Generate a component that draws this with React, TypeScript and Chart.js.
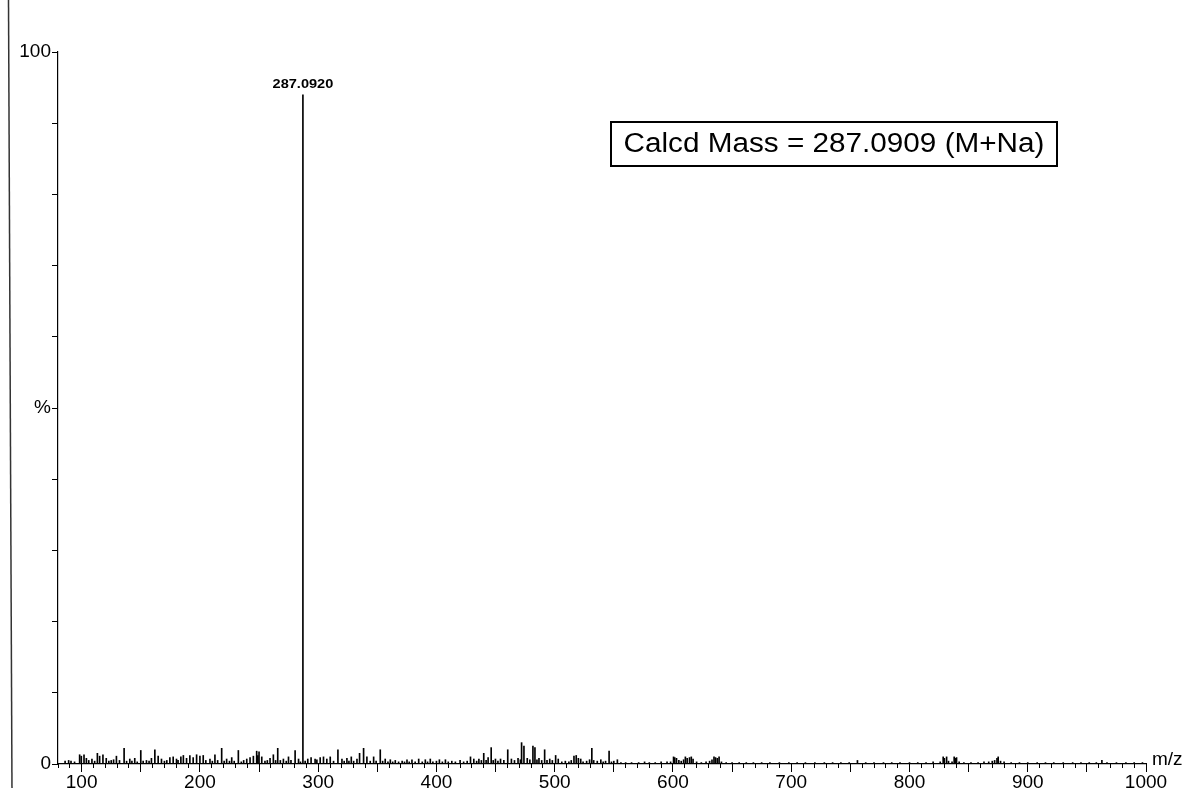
import React, { useEffect, useRef } from "react";
import { Chart, registerables } from "chart.js";

Chart.register(...registerables);

// ---- Data ----
const xMin = 80;
const xMax = 1000;
const yMin = 0;
const yMax = 100;

const mainPeakMz = [287.092];
const mainPeakPct = [94];
const mainPeakLabels = ["287.0920"];

const calcdText = "Calcd Mass = 287.0909 (M+Na)";
const xAxisTitle = "m/z";

const minorMz = [
  86, 89, 91, 94, 98.3, 99.7, 102, 104, 106, 108.7, 111, 113.3, 115.2, 118, 120.8, 123, 125, 127, 129.4, 132,
  135.9, 138, 140.7, 142.5, 144.9, 147, 150, 152, 154.8, 157, 159, 161.9, 164.7, 167.5, 170, 172, 174.6, 177.4,
  180.2, 181.5, 183.9, 186, 188.7, 191.5, 194.3, 197.2, 200, 202.8, 205, 208.5, 210.5, 212.7, 215, 218.4, 220.5,
  222.6, 225, 226.9, 229, 232.5, 235, 237, 239.6, 242.4, 245.2, 248, 249, 250, 252.3, 255, 257, 259.3, 262.1, 264,
  265.8, 268, 270.6, 273, 274.9, 277, 280.5, 283.4, 285, 289, 291.2, 294, 297.4, 298.9, 301.7, 304.5, 307.3, 310.2,
  313, 316.7, 320.1, 322, 324.3, 326, 328, 330, 332.8, 335, 338.4, 341.2, 344, 346.9, 349, 352.5, 354.5, 356.7, 359,
  361, 363, 365.2, 368, 371, 373, 375.1, 377, 379.3, 382, 385, 388, 390.6, 392.5, 394.8, 397, 400, 402.5, 405, 407.6,
  410, 413, 416, 420, 423, 426, 428.8, 431.6, 434, 435.9, 438, 440, 442, 443.7, 446.3, 448, 449.9, 452, 454.2, 457,
  460.3, 463.4, 466, 469, 471, 472, 474, 476.8, 479, 481.6, 483.3, 485, 486.7, 489, 491.5, 493.5, 495.8, 498, 500.8,
  503, 506, 509, 512, 514, 516.3, 518.2, 520, 522, 524, 527, 529.5, 531.4, 533, 536, 539, 541, 543, 546, 548, 550,
  553, 556, 560, 565, 571, 576, 580, 585, 590, 595, 598, 600.5, 601.5, 603, 605, 607, 609, 610.5, 612, 614, 615.5,
  617, 620, 624, 628, 631, 633, 634.7, 636, 637.5, 639, 641, 645, 650, 656, 662, 668, 675, 682, 690, 698, 705, 712,
  720, 728, 735, 742, 749, 756, 763, 770, 778, 785, 792, 800, 807, 814, 820, 826, 828.5, 829.5, 831.4, 833, 836,
  837.8, 839, 839.8, 842, 846, 852, 858, 863, 867, 870, 872, 874, 875, 877, 880, 886, 893, 900, 908, 915, 922, 930,
  938, 945, 952, 958, 962.7, 967, 975, 983, 990, 997,
];
const minorPct = [
  0.4, 0.5, 0.4, 0.3, 1.3, 1.1, 1.3, 0.8, 0.5, 0.7, 0.4, 1.5, 1.1, 1.3, 0.8, 0.4, 0.5, 0.6, 1.1, 0.5,
  2.2, 0.4, 0.7, 0.4, 0.8, 0.3, 1.9, 0.4, 0.5, 0.4, 0.8, 2.0, 1.1, 0.7, 0.4, 0.5, 0.9, 1.0,
  0.7, 0.5, 1.0, 1.2, 0.8, 1.2, 0.9, 1.3, 1.1, 1.2, 0.5, 0.7, 0.4, 1.3, 0.5, 2.2, 0.4,
  0.7, 0.4, 0.9, 0.4, 1.9, 0.3, 0.5, 0.7, 0.9, 1.1, 1.8, 1.2, 1.7, 1.0, 0.4, 0.5, 0.8, 1.3, 0.5,
  2.2, 0.5, 0.7, 0.4, 1.0, 0.5, 1.9, 0.7, 0.3, 0.4, 0.7, 0.9, 0.7, 0.6, 0.9, 1.0, 0.7, 1.0,
  0.4, 2.0, 0.7, 0.4, 0.8, 0.4, 1.0, 0.4, 0.7, 1.5, 2.2, 1.0, 0.4, 1.0, 0.4, 2.0, 0.4, 0.7, 0.3,
  0.6, 0.3, 0.5, 0.3, 0.4, 0.3, 0.6, 0.3, 0.6, 0.3, 0.7, 0.3, 0.6, 0.3, 0.7, 0.3, 0.4, 0.6, 0.3, 0.6,
  0.3, 0.4, 0.3, 0.5, 0.3, 0.4, 1.0, 0.7, 0.4, 0.7, 0.5, 1.5, 0.5, 0.9, 2.3, 0.5, 0.7, 0.4, 0.7, 0.5,
  2.0, 0.7, 0.5, 0.8, 0.6, 3.0, 2.5, 0.8, 0.6, 2.5, 2.3, 0.6, 0.8, 0.5, 2.0, 0.5, 0.7, 0.5, 1.2,
  0.7, 0.3, 0.4, 0.3, 0.5, 1.1, 1.2, 0.8, 0.7, 0.3, 0.4, 0.6, 2.2, 0.5, 0.4, 0.6, 0.3, 0.4, 1.8, 0.3, 0.4,
  0.6, 0.2, 0.2, 0.2, 0.2, 0.3, 0.2, 0.2, 0.3, 0.3, 0.3, 1.0, 0.9, 0.8, 0.5, 0.4, 0.6, 1.0, 0.8, 0.9, 1.0,
  0.7, 0.3, 0.2, 0.3, 0.4, 0.6, 1.0, 0.9, 0.8, 1.0, 0.3, 0.2, 0.2, 0.2, 0.2, 0.2, 0.2, 0.2, 0.2, 0.2, 0.2, 0.2,
  0.2, 0.2, 0.2, 0.2, 0.2, 0.5, 0.2, 0.2, 0.2, 0.2, 0.2, 0.2, 0.2, 0.2, 0.3, 0.3, 1.0, 0.8, 1.0, 0.4, 0.3,
  1.0, 0.8, 0.9, 0.3, 0.2, 0.2, 0.2, 0.3, 0.3, 0.4, 0.5, 0.8, 1.0, 0.4, 0.3, 0.2, 0.2, 0.2, 0.2, 0.2, 0.2, 0.2,
  0.2, 0.2, 0.2, 0.2, 0.5, 0.2, 0.2, 0.2, 0.2, 0.2,
];

const FONT = "'Liberation Sans', Arial, Helvetica, sans-serif";

const overlayPlugin = {
  id: "overlay",
  afterDraw(chart: any) {
    const ctx = chart.ctx;
    const xs = chart.scales.x;
    const ys = chart.scales.y;
    const area = chart.chartArea;
    ctx.save();
    // scan border line on the left
    ctx.strokeStyle = "#333";
    ctx.lineWidth = 1.5;
    ctx.beginPath();
    ctx.moveTo(8.5, 0);
    ctx.lineTo(12, 788);
    ctx.stroke();

    // peak labels
    ctx.fillStyle = "#000";
    ctx.font = `bold 13px ${FONT}`;
    ctx.textAlign = "center";
    ctx.textBaseline = "bottom";
    mainPeakMz.forEach((mz, i) => {
      const px = xs.getPixelForValue(mz);
      const py = ys.getPixelForValue(mainPeakPct[i]);
      ctx.save();
      ctx.translate(px, py - 4);
      ctx.scale(1.12, 1);
      ctx.fillText(mainPeakLabels[i], 0, 0);
      ctx.restore();
    });

    // m/z axis title
    ctx.font = `19px ${FONT}`;
    ctx.textAlign = "left";
    ctx.textBaseline = "alphabetic";
    ctx.fillText(xAxisTitle, area.right + 6, area.bottom + 1);

    // calcd mass box
    const bx = 611, by = 122, bw = 446, bh = 44;
    ctx.lineWidth = 2;
    ctx.strokeStyle = "#000";
    ctx.strokeRect(bx, by, bw, bh);
    ctx.font = `27px ${FONT}`;
    ctx.textAlign = "center";
    ctx.textBaseline = "middle";
    ctx.save();
    ctx.translate(bx + bw / 2, by + bh / 2 + 1);
    ctx.scale(1.1, 1);
    ctx.fillText(calcdText, 0, 0);
    ctx.restore();
    ctx.restore();
  },
};

export default function App() {
  const ref = useRef<HTMLCanvasElement | null>(null);
  useEffect(() => {
    if (!ref.current) return;
    Chart.defaults.font.family = FONT;
    Chart.defaults.color = "#000";
    const chart = new Chart(ref.current, {
      type: "bar",
      data: {
        datasets: [
          {
            label: "main",
            data: mainPeakMz.map((m, i) => ({ x: m, y: mainPeakPct[i] })),
            backgroundColor: "#000",
            borderWidth: 0,
            barThickness: 1,
            grouped: false,
          } as any,
          {
            label: "minor",
            data: minorMz.map((m, i) => ({ x: m, y: minorPct[i] })),
            backgroundColor: "#000",
            borderWidth: 0,
            barThickness: 1,
            grouped: false,
          } as any,
        ],
      },
      options: {
        animation: false,
        responsive: false,
        devicePixelRatio: 1,
        layout: { padding: { top: 52, right: 38, left: 0, bottom: 0 } },
        plugins: {
          legend: { display: false },
          tooltip: { enabled: false },
          title: { display: false },
        },
        scales: {
          x: {
            type: "linear",
            offset: false,
            min: xMin,
            max: xMax,
            weight: 1,
            afterFit: (s: any) => {
              s.height = 24;
            },
            grid: { offset: false, drawOnChartArea: false, tickLength: 8, tickColor: "#000", tickWidth: 1 },
            border: { display: true, color: "#000", width: 1.2 },
            ticks: {
              stepSize: 50,
              includeBounds: false,
              autoSkip: false,
              maxRotation: 0,
              padding: -1,
              font: { size: 19 },
              color: "#000",
              callback: (v: any) => (Number(v) % 100 === 0 ? String(v) : ""),
            },
          },
          x2: {
            type: "linear",
            position: "bottom",
            offset: false,
            min: xMin,
            max: xMax,
            weight: 0,
            afterFit: (s: any) => {
              s.height = 0;
            },
            grid: { offset: false, drawOnChartArea: false, tickLength: 4, tickColor: "#000", tickWidth: 1 },
            border: { display: false },
            ticks: { stepSize: 10, includeBounds: false, autoSkip: false, display: false },
          },
          y: {
            min: yMin,
            max: yMax,
            afterFit: (s: any) => {
              s.width = 58;
            },
            grid: { drawOnChartArea: false, tickLength: 6, tickColor: "#000", tickWidth: 1 },
            border: { display: true, color: "#000", width: 1.2 },
            ticks: {
              stepSize: 10,
              autoSkip: false,
              padding: 1,
              font: { size: 19 },
              color: "#000",
              callback: (v: any) => (v === 100 ? "100" : v === 50 ? "%" : v === 0 ? "0" : ""),
            },
          },
        },
      } as any,
      plugins: [overlayPlugin],
    });
    return () => chart.destroy();
  }, []);
  return (
    <div style={{ position: "fixed", left: 0, top: 0, width: 1184, height: 788, background: "#fff" }}>
      <canvas ref={ref} width={1184} height={788} style={{ display: "block", width: 1184, height: 788 }} />
    </div>
  );
}
